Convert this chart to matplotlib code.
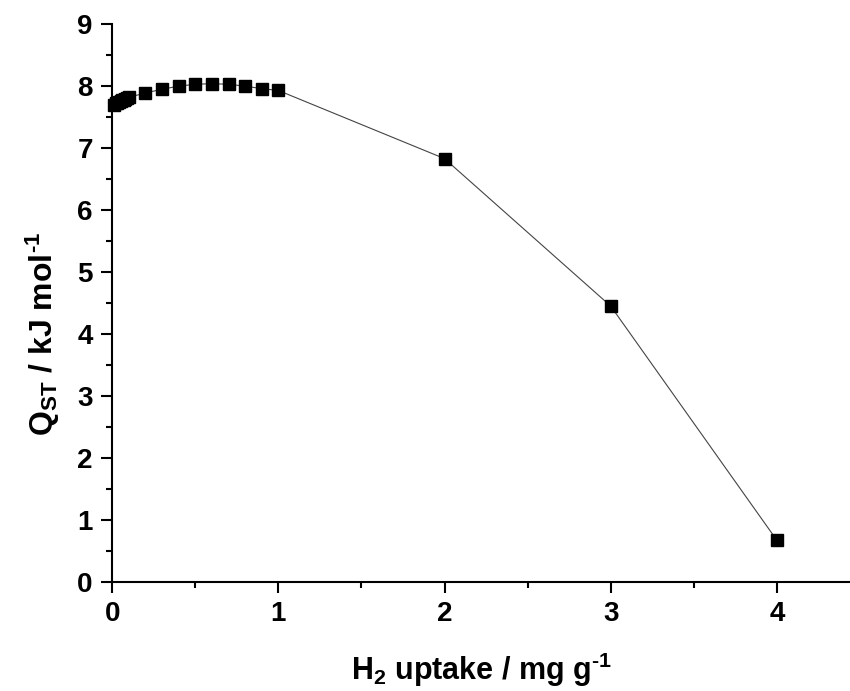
import matplotlib
matplotlib.use("Agg")
import matplotlib.pyplot as plt
from matplotlib.ticker import MultipleLocator

plt.rcParams['font.family'] = ['Liberation Sans', 'DejaVu Sans']
plt.rcParams['mathtext.fontset'] = 'custom'
plt.rcParams['mathtext.rm'] = 'Liberation Sans:bold'
plt.rcParams['mathtext.it'] = 'Liberation Sans:bold'
plt.rcParams['mathtext.bf'] = 'Liberation Sans:bold'
plt.rcParams['axes.unicode_minus'] = False

uptake = [0.01, 0.02, 0.03, 0.04, 0.05, 0.06, 0.07, 0.08, 0.09, 0.10,
          0.2, 0.3, 0.4, 0.5, 0.6, 0.7, 0.8, 0.9, 1.0, 2.0, 3.0, 4.0]
qst = [7.70, 7.72, 7.73, 7.75, 7.76, 7.77, 7.78, 7.80, 7.81, 7.82,
       7.89, 7.95, 8.00, 8.03, 8.04, 8.03, 8.00, 7.96, 7.93, 6.83, 4.45, 0.67]

fig = plt.figure(figsize=(8.5, 6.91), dpi=100)
ax = fig.add_axes([0.132, 0.158, 0.868, 0.807])
ax.plot(uptake, qst, color='#444444', lw=0.8, marker='s', ms=8.5,
        mfc='black', mec='black', clip_on=False)

ax.set_xlim(0, 4.44)
ax.set_ylim(0, 9)
ax.spines['top'].set_visible(False)
ax.spines['right'].set_visible(False)
for s in ('left', 'bottom'):
    ax.spines[s].set_linewidth(1.5)
ax.xaxis.set_major_locator(MultipleLocator(1))
ax.xaxis.set_minor_locator(MultipleLocator(0.5))
ax.yaxis.set_major_locator(MultipleLocator(1))
ax.yaxis.set_minor_locator(MultipleLocator(0.5))
ax.tick_params(which='major', direction='out', length=8, width=1.5, pad=6)
ax.tick_params(which='minor', direction='out', length=4.5, width=1.5)
ax.tick_params(axis='x', which='major', labelsize=20)
ax.tick_params(axis='y', which='major', labelsize=20)
for lbl in ax.get_xticklabels() + ax.get_yticklabels():
    lbl.set_fontweight('bold')

ax.set_xlabel(r'H$_{2}$ uptake / mg g$^{\text{-1}}$', fontsize=22, fontweight='bold', labelpad=17)
ax.set_ylabel(r'Q$_{ST}$ / kJ mol$^{\text{-1}}$', fontsize=23, fontweight='bold')
ax.yaxis.set_label_coords(-0.068, 0.445)

fig.savefig('out.png', dpi=100)
